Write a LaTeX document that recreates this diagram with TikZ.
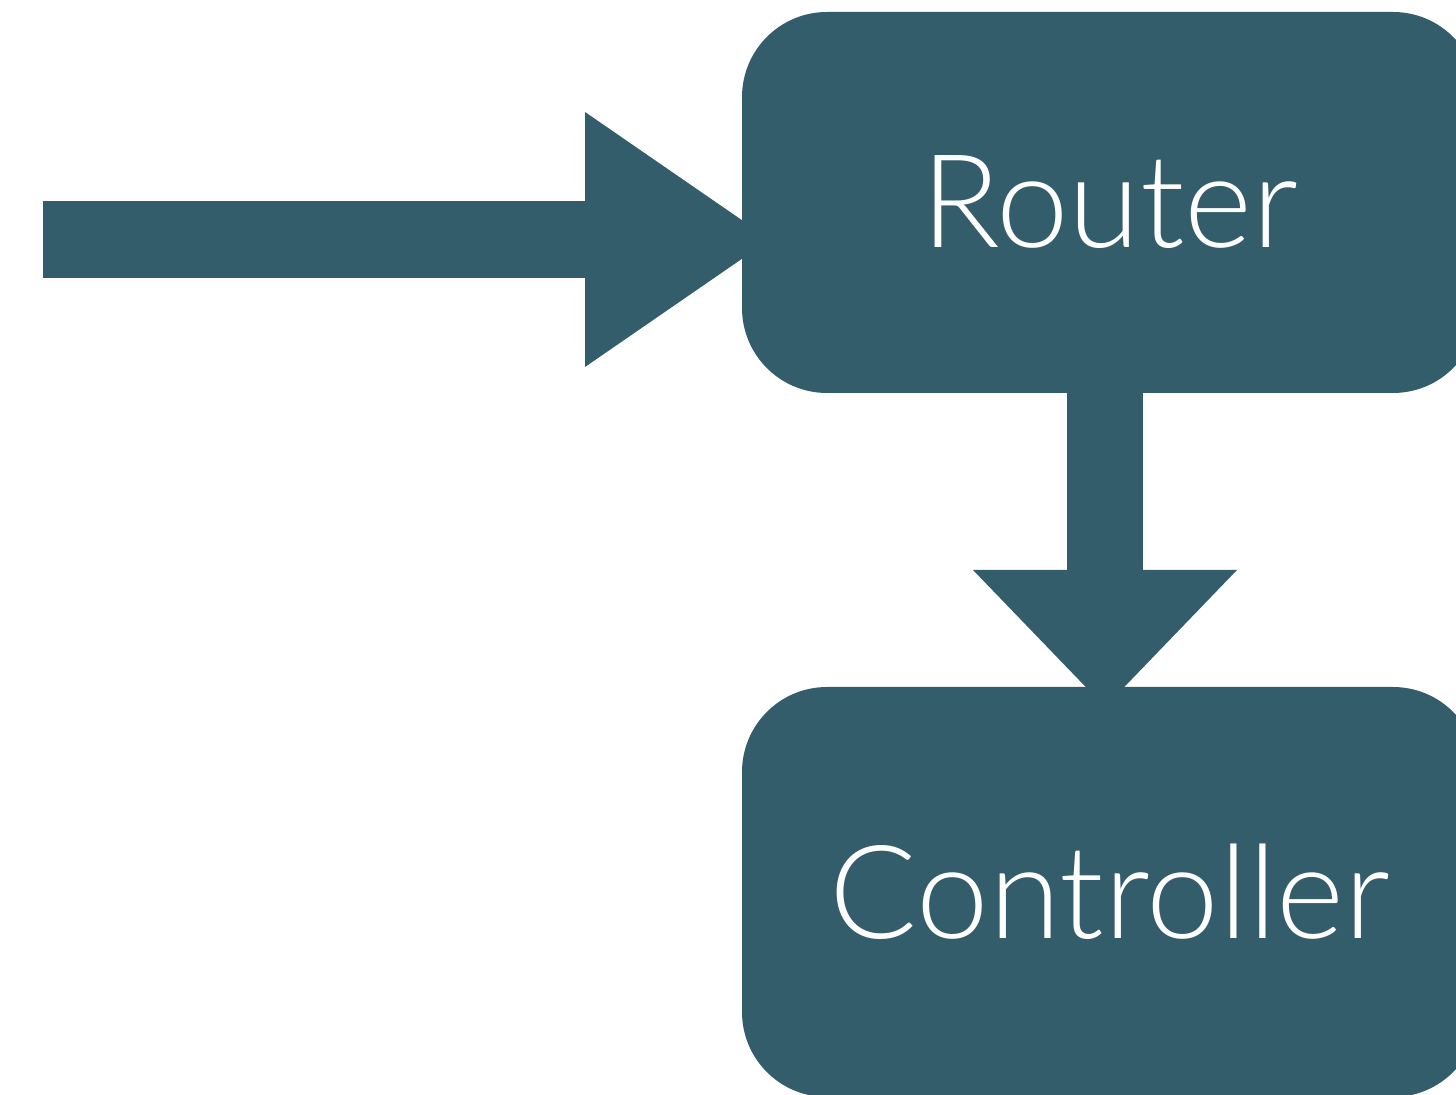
\documentclass[tikz,border=0pt]{standalone}
\usepackage{fontspec}
\setmainfont{Lato}[UprightFont=* Light]
\usetikzlibrary{arrows.meta}
\definecolor{slate}{RGB}{51,93,107}
\tikzset{
  box/.style={fill=slate, draw=none, rounded corners=42.5pt, text=white,
    inner sep=0pt, font=\fontsize{65}{78}\selectfont},
  bigarrow/.style={draw=slate, line cap=butt,
    -{Triangle[length=#1, line width=0pt, fill=slate]}},
}
\begin{document}
\begin{tikzpicture}[x=0.5pt, y=-0.5pt]
\useasboundingbox (0,0) rectangle (1456,1095);
\clip (0,0) rectangle (1456,1095);
\coordinate (in) at (43,239.5);
\coordinate (rtr) at (1110,202.5);
\coordinate (ctl) at (1110,892);
% connectors first (boxes cover the tips)
\coordinate (intip) at (770,239.5);
\draw[line width=38.5pt, slate, -{Triangle[length=92.5pt, width=127.5pt, line width=0pt, fill=slate]}] (in) -- (intip);
\coordinate (dtop) at (1105,393);
\coordinate (dtip) at (1105,707);
\draw[line width=38pt, slate, -{Triangle[length=68.5pt, width=132pt, line width=0pt, fill=slate]}] (dtop) -- (dtip);
\node[box, minimum width=368pt, minimum height=190.5pt] (router) at (rtr) {Router};
\node[box, minimum width=368pt, minimum height=205pt] (controller) at (ctl) {Controller};
\end{tikzpicture}
\end{document}
